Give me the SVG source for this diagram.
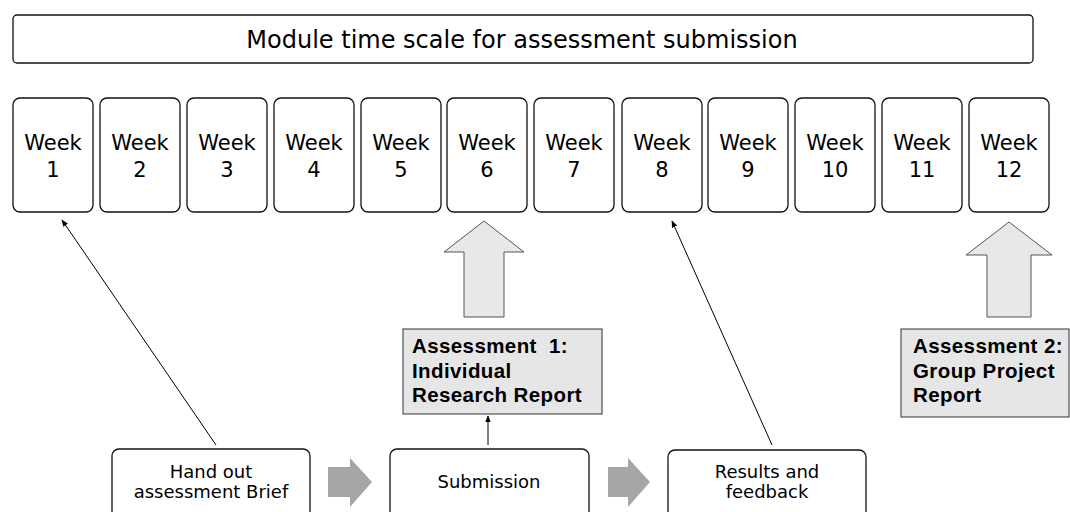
<svg xmlns="http://www.w3.org/2000/svg" width="1070" height="512" viewBox="0 0 1070 512">
<defs>
<style>
.rb{fill:#fff;stroke:#111;stroke-width:1.3}
.t{font-family:"DejaVu Sans",sans-serif;fill:#000;text-anchor:middle}
.wk{font-size:21px}
.bt{font-size:18px}
.ab{fill:#e6e6e6;stroke:#333;stroke-width:1}
.bd{font-family:"Liberation Sans",Arial,sans-serif;font-weight:bold;font-size:20.5px;letter-spacing:0.4px;fill:#000}
.up{fill:#e8e8e8;stroke:#555;stroke-width:1}
.ga{fill:#a6a6a6;stroke:none}
.ln{stroke:#000;stroke-width:1;fill:none;marker-end:url(#ah)}
</style>
<marker id="ah" viewBox="0 0 10 10" refX="9" refY="5" markerWidth="7" markerHeight="7" markerUnits="userSpaceOnUse" orient="auto">
<path d="M0,1 L10,5 L0,9 z" fill="#000"/>
</marker>
</defs>

<g id="title">
<rect class="rb" x="13" y="15" width="1020" height="48" rx="4"/>
<text class="t" x="522" y="48" font-size="24">Module time scale for assessment submission</text>
</g>

<g id="week1"><rect class="rb" x="13" y="98" width="80" height="114" rx="7"/><text class="t wk" x="53" y="150">Week</text><text class="t wk" x="53" y="177">1</text></g>
<g id="week2"><rect class="rb" x="100" y="98" width="80" height="114" rx="7"/><text class="t wk" x="140" y="150">Week</text><text class="t wk" x="140" y="177">2</text></g>
<g id="week3"><rect class="rb" x="187" y="98" width="80" height="114" rx="7"/><text class="t wk" x="227" y="150">Week</text><text class="t wk" x="227" y="177">3</text></g>
<g id="week4"><rect class="rb" x="274" y="98" width="80" height="114" rx="7"/><text class="t wk" x="314" y="150">Week</text><text class="t wk" x="314" y="177">4</text></g>
<g id="week5"><rect class="rb" x="361" y="98" width="80" height="114" rx="7"/><text class="t wk" x="401" y="150">Week</text><text class="t wk" x="401" y="177">5</text></g>
<g id="week6"><rect class="rb" x="447" y="98" width="80" height="114" rx="7"/><text class="t wk" x="487" y="150">Week</text><text class="t wk" x="487" y="177">6</text></g>
<g id="week7"><rect class="rb" x="534" y="98" width="80" height="114" rx="7"/><text class="t wk" x="574" y="150">Week</text><text class="t wk" x="574" y="177">7</text></g>
<g id="week8"><rect class="rb" x="622" y="98" width="80" height="114" rx="7"/><text class="t wk" x="662" y="150">Week</text><text class="t wk" x="662" y="177">8</text></g>
<g id="week9"><rect class="rb" x="708" y="98" width="80" height="114" rx="7"/><text class="t wk" x="748" y="150">Week</text><text class="t wk" x="748" y="177">9</text></g>
<g id="week10"><rect class="rb" x="795" y="98" width="80" height="114" rx="7"/><text class="t wk" x="835" y="150">Week</text><text class="t wk" x="835" y="177">10</text></g>
<g id="week11"><rect class="rb" x="882" y="98" width="80" height="114" rx="7"/><text class="t wk" x="922" y="150">Week</text><text class="t wk" x="922" y="177">11</text></g>
<g id="week12"><rect class="rb" x="969" y="98" width="80" height="114" rx="7"/><text class="t wk" x="1009" y="150">Week</text><text class="t wk" x="1009" y="177">12</text></g>

<g id="assessment1">
<rect class="ab" x="403" y="329" width="199" height="85"/>
<text class="bd" x="412" y="353" xml:space="preserve">Assessment  1:</text>
<text class="bd" x="412" y="378">Individual</text>
<text class="bd" x="412" y="402">Research Report</text>
</g>

<g id="assessment2">
<rect class="ab" x="901" y="329" width="168" height="88"/>
<text class="bd" x="913" y="353">Assessment 2:</text>
<text class="bd" x="913" y="378">Group Project</text>
<text class="bd" x="913" y="402">Report</text>
</g>

<g id="handout">
<rect class="rb" x="112" y="449" width="198" height="80" rx="7"/>
<text class="t bt" x="211" y="478">Hand out</text>
<text class="t bt" x="211" y="498">assessment Brief</text>
</g>

<g id="submission">
<rect class="rb" x="390" y="449" width="199" height="80" rx="7"/>
<text class="t bt" x="489" y="488">Submission</text>
</g>

<g id="results">
<rect class="rb" x="668" y="450" width="198" height="80" rx="7"/>
<text class="t bt" x="767" y="478">Results and</text>
<text class="t bt" x="767" y="498">feedback</text>
</g>

<g id="connectors">
<polygon class="up" points="484,221 524,252 504,252 504,317 464,317 464,252 444,252"/>
<polygon class="up" points="1009,222 1052,255 1031,255 1031,317 987,317 987,255 966,255"/>
<polygon class="ga" points="328,467 350,467 350,458 372,482 350,507 350,497 328,497"/>
<polygon class="ga" points="608,467 628,467 628,458 650,482 628,507 628,497 608,497"/>
<line class="ln" x1="216" y1="445" x2="62" y2="220"/>
<line class="ln" x1="772" y1="445" x2="672" y2="221"/>
<line class="ln" x1="488" y1="445" x2="488" y2="416"/>
</g>
</svg>
